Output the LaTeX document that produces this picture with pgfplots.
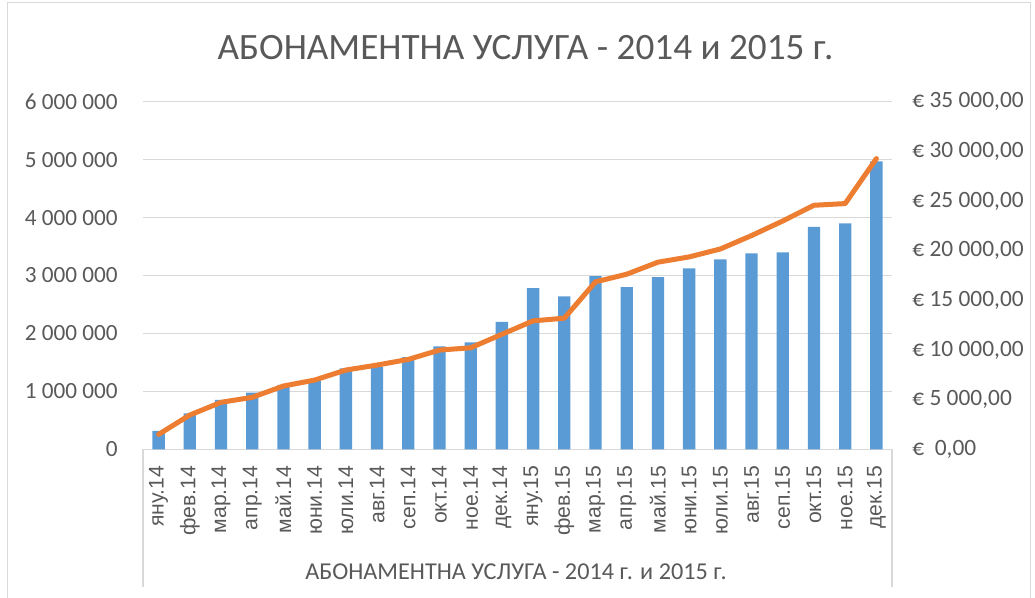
\documentclass[border=0pt]{standalone}
\usepackage{pgfplots}
\pgfplotsset{compat=1.18}
\usepackage{fontspec}
\setmainfont{Carlito}
\newfontfamily\xlab{Liberation Sans}
\definecolor{txt}{HTML}{595959}
\definecolor{gridc}{HTML}{D9D9D9}
\definecolor{barc}{HTML}{5B9BD5}
\definecolor{linec}{HTML}{ED7D31}
\begin{document}
\begin{tikzpicture}
\path[use as bounding box] (0,0) rectangle (517.5pt,299pt);
\draw[gridc, line width=0.5pt] (3.5pt,-2pt) -- (3.5pt,297.5pt) -- (515pt,297.5pt) -- (515pt,-2pt);
\begin{axis}[
  at={(71.5pt,74.35pt)}, anchor=south west,
  scale only axis, width=374.5pt, height=173.8pt,
  xmin=-0.5, xmax=23.5, ymin=0, ymax=6000000,
  axis lines*=left,
  y axis line style={draw=none},
  x axis line style={draw=gridc, line width=0.65pt},
  ymajorgrids, grid style={gridc, line width=0.65pt},
  major tick length=0pt,
  xtick={0,...,23},
  xticklabels={яну.14,фев.14,мар.14,апр.14,май.14,юни.14,юли.14,авг.14,сеп.14,окт.14,ное.14,дек.14,яну.15,фев.15,мар.15,апр.15,май.15,юни.15,юли.15,авг.15,сеп.15,окт.15,ное.15,дек.15},
  xticklabel style={rotate=90, anchor=east, inner sep=0pt, text=txt, font=\xlab\fontsize{10.6}{12}\selectfont},
  xticklabel shift=8pt,
  ytick={0,1000000,2000000,3000000,4000000,5000000,6000000},
  yticklabels={0,1 000 000,2 000 000,3 000 000,4 000 000,5 000 000,6 000 000},
  scaled y ticks=false,
  yticklabel style={inner sep=0pt, text=txt, font=\fontsize{11.6}{13}\selectfont},
  yticklabel shift=12.5pt,
]
\addplot[ybar, bar width=6.15pt, fill=barc, draw=none] coordinates {
(0,320000) (1,620000) (2,855000) (3,980000) (4,1110000) (5,1195000)
(6,1395000) (7,1420000) (8,1590000) (9,1775000) (10,1845000) (11,2200000)
(12,2780000) (13,2640000) (14,2990000) (15,2800000) (16,2970000) (17,3125000)
(18,3280000) (19,3380000) (20,3400000) (21,3840000) (22,3900000) (23,4970000)
};
\end{axis}
\begin{axis}[
  at={(71.5pt,74.35pt)}, anchor=south west,
  scale only axis, width=374.5pt, height=173.8pt,
  xmin=-0.5, xmax=23.5, ymin=0, ymax=35000,
  hide x axis,
  axis y line*=right,
  y axis line style={draw=none},
  major tick length=0pt,
  ytick={0,5000,10000,15000,20000,25000,30000,35000},
  yticklabels={{€\ \ 0,00},{€ 5 000,00},{€ 10 000,00},{€ 15 000,00},{€ 20 000,00},{€ 25 000,00},{€ 30 000,00},{€ 35 000,00}},
  scaled y ticks=false,
  yticklabel style={inner sep=0pt, text=txt, font=\fontsize{11.7}{13}\selectfont},
  yticklabel shift=10pt,
  clip=false,
]
\addplot[linec, line width=2.5pt, line cap=round, line join=round, mark=none] coordinates {
(0,1500) (1,3450) (2,4730) (3,5230) (4,6370) (5,6970)
(6,7980) (7,8480) (8,9050) (9,9990) (10,10220) (11,11580)
(12,12930) (13,13200) (14,16860) (15,17630) (16,18840) (17,19370)
(18,20170) (19,21520) (20,22990) (21,24570) (22,24740) (23,29270)
};
\end{axis}
\draw[gridc, line width=0.65pt] (71.5pt,74.35pt) -- (71.5pt,5.5pt);
\draw[gridc, line width=0.65pt] (446pt,74.35pt) -- (446pt,5.5pt);
\node[anchor=base, text=txt, font=\fontsize{18.6}{22}\selectfont, inner sep=0pt] at (262.75pt,269pt) {АБОНАМЕНТНА УСЛУГА - 2014 и 2015 г.};
\node[anchor=base, text=txt, font=\fontsize{12.1}{14}\selectfont, inner sep=0pt] at (258pt,9pt) {АБОНАМЕНТНА УСЛУГА - 2014 г. и 2015 г.};
\end{tikzpicture}
\end{document}
